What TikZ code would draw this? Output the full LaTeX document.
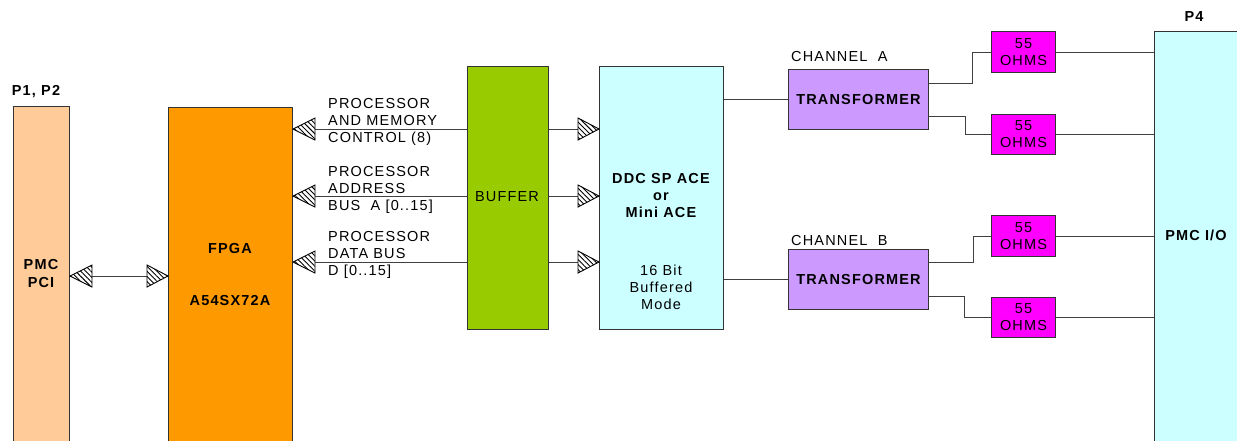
\documentclass[tikz,border=0pt]{standalone}
\usepackage{fontspec}
\setmainfont{Liberation Sans}[LetterSpace=8]
\usetikzlibrary{patterns.meta}
\definecolor{peach}{HTML}{FFCC99}
\definecolor{fpgaor}{HTML}{FF9900}
\definecolor{bufgreen}{HTML}{99CC00}
\definecolor{ddccyan}{HTML}{CCFFFF}
\definecolor{trlav}{HTML}{CC99FF}
\definecolor{ohmmag}{HTML}{FF00FF}
\definecolor{edge}{HTML}{333333}
\tikzset{
  box/.style={draw=edge, line width=1pt, inner sep=0pt, anchor=north west, align=center,
    font=\fontsize{14.5}{17}\selectfont},
  lbl/.style={inner sep=0pt, font=\fontsize{14.5}{17}\selectfont},
  blbl/.style={inner sep=0pt, font=\fontsize{14.5}{17}\selectfont\bfseries},
  wire/.style={draw=black!75, line width=1pt},
  hatch/.style={draw=black, line width=0.9pt, preaction={fill=white},
    pattern={Lines[angle=-45,distance=3.6pt,line width=0.9pt]}},
}
\begin{document}
\begin{tikzpicture}[x=1pt,y=-1pt]
\useasboundingbox (0,0) rectangle (1237,440);
\clip (0,0) rectangle (1237,440);
% boxes
\node[box, fill=peach, minimum width=56, minimum height=350] (pci) at (13,106) {};
\node[box, fill=fpgaor, minimum width=124, minimum height=350] (fpga) at (168,107) {};
\node[box, fill=bufgreen, minimum width=81, minimum height=263] (buf) at (467,66) {};
\node[box, fill=ddccyan, minimum width=124, minimum height=263] (ddc) at (599,66) {};
\node[box, fill=trlav, minimum width=140, minimum height=60, font=\fontsize{14.5}{17}\selectfont\bfseries] (tA) at (788,69) {TRANSFORMER};
\node[box, fill=trlav, minimum width=140, minimum height=60, font=\fontsize{14.5}{17}\selectfont\bfseries] (tB) at (788,249) {TRANSFORMER};
\node[box, fill=ohmmag, minimum width=64, minimum height=41] (o1) at (991,31) {55\\OHMS};
\node[box, fill=ohmmag, minimum width=64, minimum height=40] (o2) at (991,114) {55\\OHMS};
\node[box, fill=ohmmag, minimum width=64, minimum height=41] (o3) at (991,215) {55\\OHMS};
\node[box, fill=ohmmag, minimum width=64, minimum height=40] (o4) at (991,297) {55\\OHMS};
\node[box, fill=ddccyan, minimum width=100, minimum height=430] (p4) at (1154,31) {};
% texts
\node[blbl] (tp12) at (36,92) {P1, P2};
\node[blbl] (tpmc) at (41,265) {PMC};
\node[blbl] (tpci) at (41,283) {PCI};
\node[blbl] (tfpga) at (230,249) {FPGA};
\node[blbl] (tpart) at (230,301) {A54SX72A};
\node[lbl] (tbuf) at (507,197) {BUFFER};
\node[blbl, align=center] (tddc) at (661,196) {DDC SP ACE\\or\\Mini ACE};
\node[lbl, align=center] (tmode) at (661,287) {16 Bit\\Buffered\\Mode};
\node[lbl, anchor=west] (tcha) at (791,57) {CHANNEL\ \ A};
\node[lbl, anchor=west] (tchb) at (791,241) {CHANNEL\ \ B};
\node[blbl] (tp4) at (1194,17) {P4};
\node[blbl] (tio) at (1196,235) {PMC I/O};
\node[lbl, anchor=west, align=left] (l1) at (328,122) {PROCESSOR\\AND MEMORY\\CONTROL (8)};
\node[lbl, anchor=west, align=left] (l2) at (328,190) {PROCESSOR\\ADDRESS\\BUS\ \ A [0..15]};
\node[lbl, anchor=west, align=left] (l3) at (328,255) {PROCESSOR\\DATA BUS\\D [0..15]};
% buses
\foreach \yy in {129,196,262}{
  \draw[wire] (buf.west |- 0,\yy) -- (fpga.east |- 0,\yy);
  \draw[wire] (buf.east |- 0,\yy) -- (ddc.west |- 0,\yy);
  \draw[hatch] (fpga.east |- 0,\yy) -- ++(22,-11) -- ++(0,22) -- cycle;
  \draw[hatch] (ddc.west |- 0,\yy) -- ++(-21,-11) -- ++(0,22) -- cycle;
}
\draw[wire] (pci.east |- 0,276) -- (fpga.west |- 0,276);
\draw[hatch] (pci.east |- 0,276) -- ++(22,-11) -- ++(0,22) -- cycle;
\draw[hatch] (fpga.west |- 0,276) -- ++(-21,-11) -- ++(0,22) -- cycle;
% channels
\draw[wire] (ddc.east |- tA.west) -- (tA.west);
\draw[wire] (ddc.east |- tB.west) -- (tB.west);
\draw[wire] ([yshift=16pt]tA.east) -| ([xshift=-19pt]o1.west) -- (o1.west);
\draw[wire] ([yshift=-17pt]tA.east) -| ([xshift=-26pt]o2.west) -- (o2.west);
\draw[wire] ([yshift=17pt]tB.east) -| ([xshift=-18pt]o3.west) -- (o3.west);
\draw[wire] ([yshift=-17pt]tB.east) -| ([xshift=-27pt]o4.west) -- (o4.west);
\foreach \o in {o1,o2,o3,o4}{
  \draw[wire] (\o.east) -- (p4.west |- \o.east);
}
\end{tikzpicture}
\end{document}
